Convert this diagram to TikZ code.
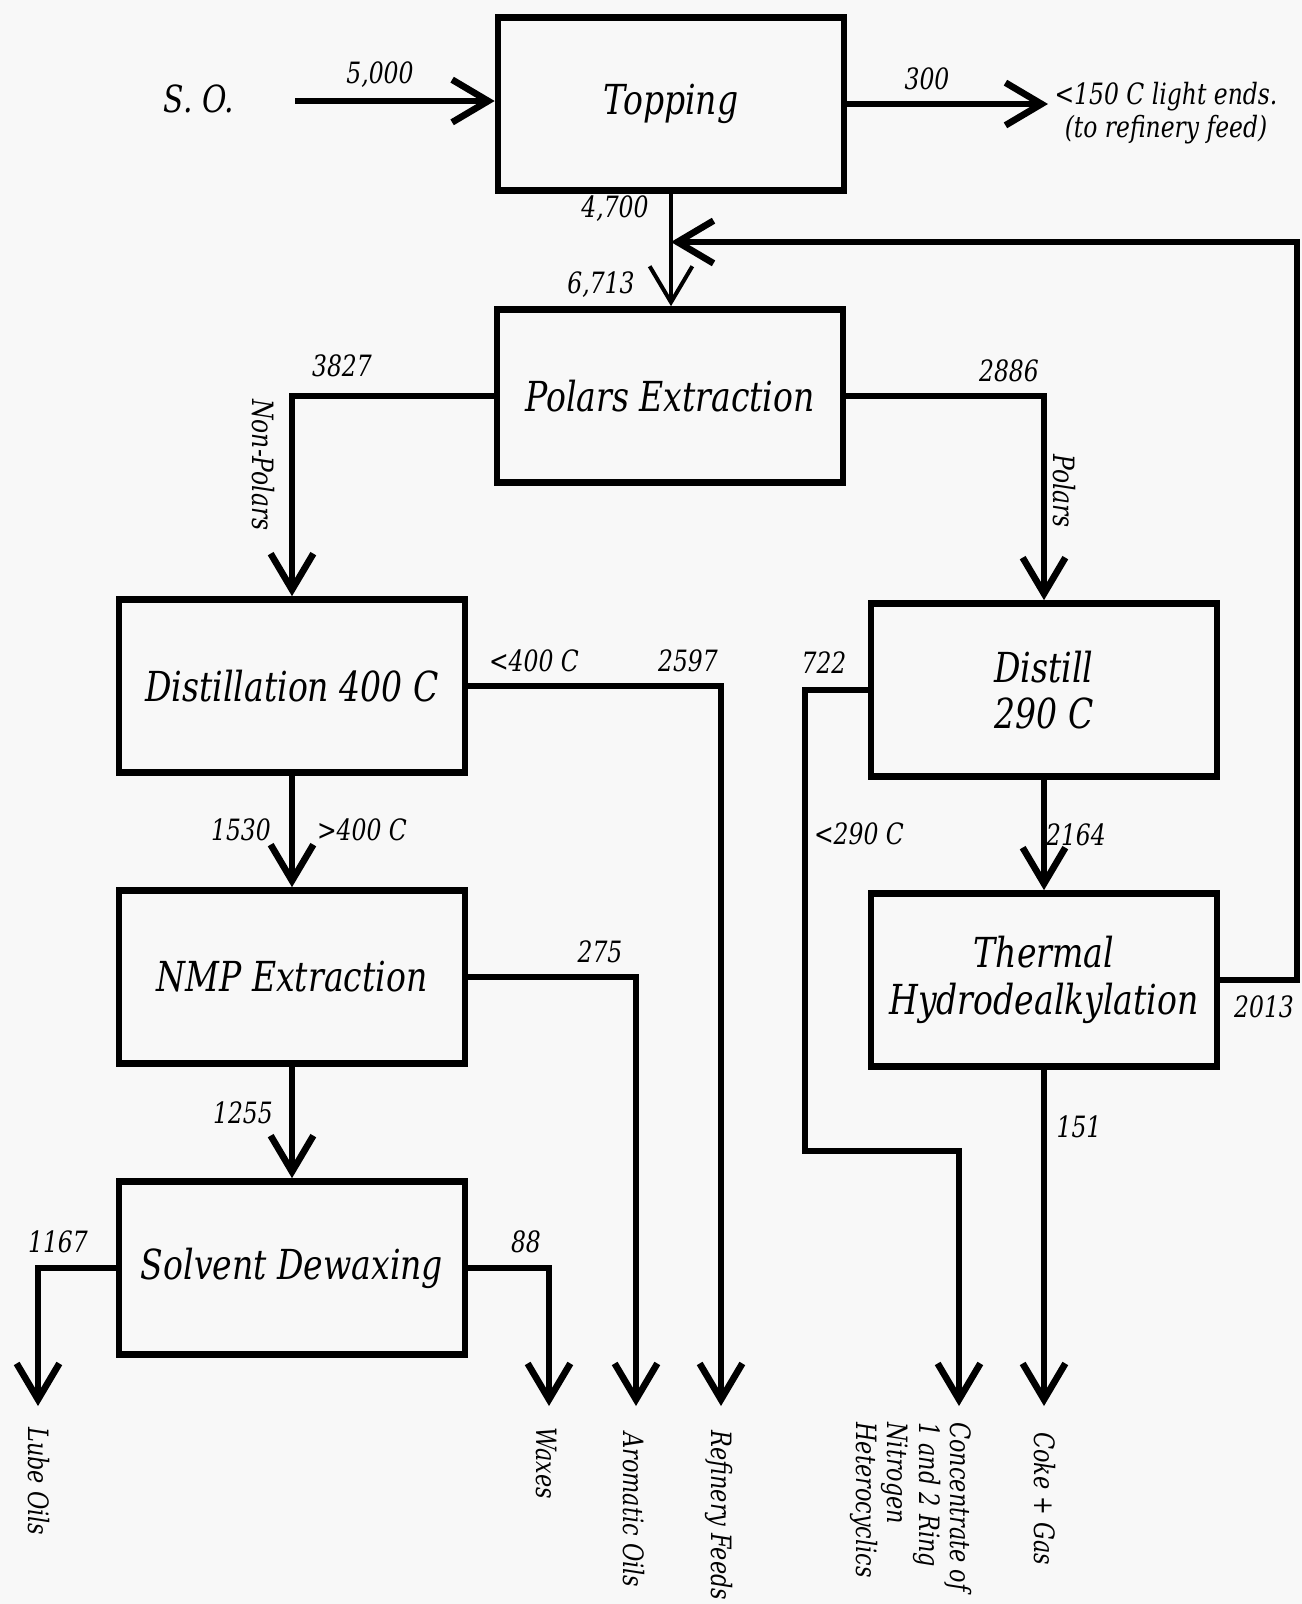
\documentclass[tikz,border=0pt]{standalone}
\usepackage{fontspec}
\setmainfont{DejaVu Serif}[FakeStretch=0.8]
\usetikzlibrary{arrows.meta}
\definecolor{bg}{RGB}{248,248,248}
\begin{document}
\begin{tikzpicture}[x=0.75pt,y=-0.75pt,
  box/.style={draw, line width=5pt, minimum width=259.5pt, minimum height=129.75pt,
    align=center, inner sep=0pt, font=\itshape\fontsize{31}{35}\selectfont},
  lbl/.style={font=\itshape\fontsize{22}{25}\selectfont, inner sep=0pt, align=center},
  outl/.style={font=\itshape\fontsize{21}{23.5}\selectfont, rotate=-90, anchor=west, align=left, inner sep=0pt},
  flow/.style={line width=5pt},
  thinflow/.style={line width=3pt},
  arr/.style={-{Straight Barb[length=27pt,width=32pt]}},
]
\fill[bg] (0,0) rectangle (1302,1604);
\useasboundingbox (0,0) rectangle (1302,1604);

% boxes
\node[box] (top)  at (671,104)  {Topping};
\node[box] (pol)  at (670,396)  {Polars Extraction};
\node[box] (dist) at (292,686)  {Distillation 400 C};
\node[box] (dis2) at (1044,690) {Distill\\290 C};
\node[box] (nmp)  at (292,977)  {NMP Extraction};
\node[box] (thd)  at (1044,980) {Thermal\\Hydrodealkylation};
\node[box] (sdw)  at (292,1268) {Solvent Dewaxing};

% coordinates
\coordinate (soS) at (295,101);
\coordinate (leS) at (1048,103);
\coordinate (rc)  at (1297,242);
\coordinate (o1)  at (38,1406);
\coordinate (o2)  at (549,1406);
\coordinate (o3)  at (636,1406);
\coordinate (o4)  at (721,1406);
\coordinate (k1)  at (805,1151);
\coordinate (o5)  at (959,1406);
\coordinate (o6)  at (1043,1406);

% connectors
\draw[flow,arr] (soS) -- (soS -| top.west);
\draw[flow,arr] (top.east) -- (top.east -| leS);
\draw[thinflow,arr] (top.south) -- (top.south |- pol.north);
\draw[flow,arr] (thd.east) -| (rc) -- (rc -| top.south);
\draw[flow,arr] (pol.west) -| (dist.north);
\draw[flow,arr] (pol.east) -| (dis2.north);
\draw[flow,arr] (dist.east) -| (o4);
\draw[flow,arr] (dis2.west) -| (k1) -| (o5);
\draw[flow,arr] (dist.south) -- (nmp.north);
\draw[flow,arr] (nmp.south) -- (sdw.north);
\draw[flow,arr] (nmp.east) -| (o3);
\draw[flow,arr] (sdw.west) -| (o1);
\draw[flow,arr] (sdw.east) -| (o2);
\draw[flow,arr] (dis2.south) -- (thd.north);
\draw[flow,arr] (thd.south) -- (thd.south |- o6);

% labels
\node[lbl, font=\itshape\fontsize{28}{30}\selectfont] (so) at (199,99) {S. O.};
\node[lbl] (l5000) at (380,75) {5,000};
\node[lbl] (l300) at (927,79) {300};
\node[lbl] (le) at (1166,113) {<150 C light ends.\\(to refinery feed)};
\node[lbl] (l4700) at (615,209) {4,700};
\node[lbl] (l6713) at (601,285) {6,713};
\node[lbl] (l3827) at (342,366) {3827};
\node[lbl] (l2886) at (1009,371) {2886};
\node[lbl, rotate=-90] (npol) at (263,465) {Non-Polars};
\node[lbl, rotate=-90] (pols) at (1064,491) {Polars};
\node[lbl] (lt400) at (534,661) {<400 C};
\node[lbl] (l2597) at (688,661) {2597};
\node[lbl] (l722) at (824,663) {722};
\node[lbl] (l1530) at (241,830) {1530};
\node[lbl] (gt400) at (362,830) {>400 C};
\node[lbl] (lt290) at (859,834) {<290 C};
\node[lbl] (l2164) at (1076,835) {2164};
\node[lbl] (l275) at (600,952) {275};
\node[lbl] (l2013) at (1264,1007) {2013};
\node[lbl] (l1255) at (243,1113) {1255};
\node[lbl] (l151) at (1079,1127) {151};
\node[lbl] (l1167) at (58,1242) {1167};
\node[lbl] (l88) at (526,1242) {88};

% outputs
\node[outl] (lube) at (39,1427) {Lube Oils};
\node[outl] (wax) at (547,1427) {Waxes};
\node[outl] (arom) at (634,1432) {Aromatic Oils};
\node[outl] (ref) at (719,1430) {Refinery Feeds};
\node[outl] (conc) at (911,1422) {Concentrate of\\1 and 2 Ring\\Nitrogen\\Heterocyclics};
\node[outl] (coke) at (1045,1432) {Coke + Gas};
\end{tikzpicture}
\end{document}
